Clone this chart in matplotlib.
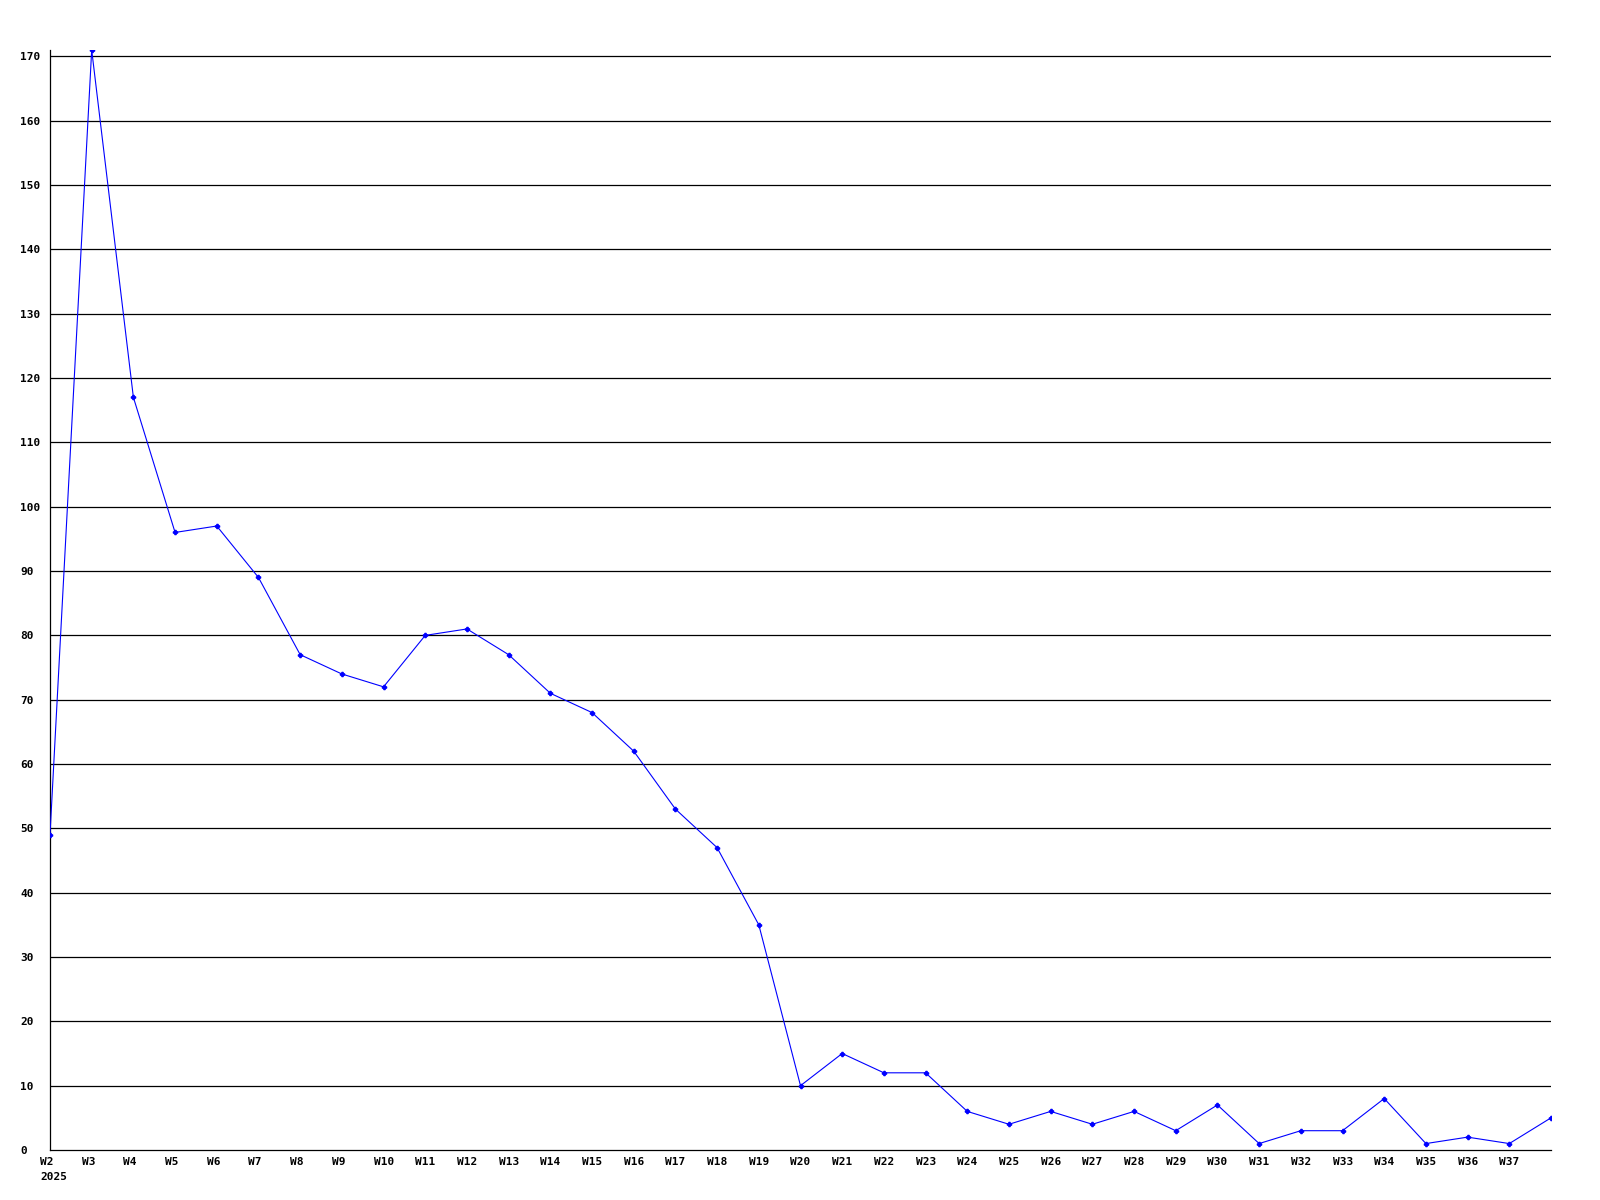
import matplotlib.pyplot as plt
import matplotlib.transforms as mtransforms

weeks = ["W" + str(w) for w in range(2, 39)]
values = [49, 171, 117, 96, 97, 89, 77, 74, 72, 80, 81, 77, 71, 68, 62, 53, 47, 35,
          10, 15, 12, 12, 6, 4, 6, 4, 6, 3, 7, 1, 3, 3, 8, 1, 2, 1, 5]
tick_labels = ["W2\n2025"] + weeks[1:-1]
y_ticks = list(range(0, 171, 10))

fig = plt.figure(figsize=(16, 12), dpi=100)
ax = fig.add_axes([50 / 1600, 50 / 1200, 1501 / 1600, 1100 / 1200])

x = list(range(len(values)))
ax.plot(x, values, color="#0000ff", lw=0.8, marker="P", markersize=3, zorder=3)

ax.set_xlim(0, len(values) - 1)
ax.set_ylim(0, 171)

for y in y_ticks[1:]:
    ax.axhline(y, color="black", lw=0.9, zorder=1)

for s in ["top", "right"]:
    ax.spines[s].set_visible(False)
for s in ["left", "bottom"]:
    ax.spines[s].set_linewidth(0.9)

ax.set_xticks(x[:-1])
ax.set_xticklabels(tick_labels, fontfamily="DejaVu Sans Mono", fontweight="bold",
                   fontsize=8, ha="left", multialignment="left", linespacing=1.6)
ax.set_yticks(y_ticks)
ax.set_yticklabels([str(v) for v in y_ticks], fontfamily="DejaVu Sans Mono",
                   fontweight="bold", fontsize=8, ha="left")
ax.tick_params(axis="both", length=0)
ax.tick_params(axis="x", pad=5)
ax.tick_params(axis="y", pad=21.6)

off = mtransforms.ScaledTranslation(-10 / 100, 0, fig.dpi_scale_trans)
for lbl in ax.get_xticklabels():
    lbl.set_transform(lbl.get_transform() + off)

fig.savefig("out.png", dpi=100, facecolor="white")
